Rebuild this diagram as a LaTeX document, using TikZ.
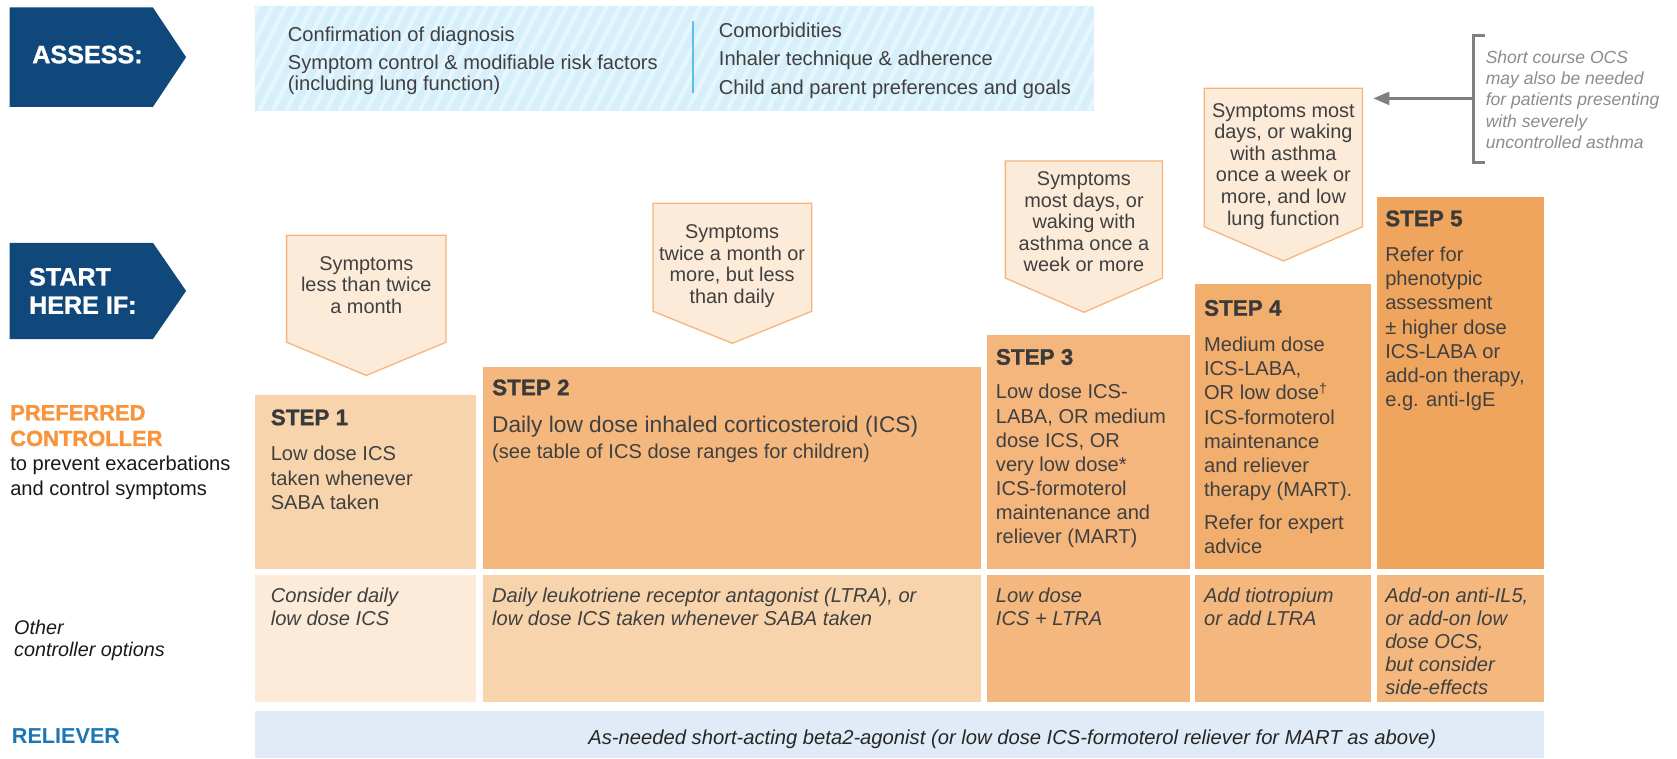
\documentclass[tikz,border=0pt]{standalone}
\usepackage{fontspec}
\setmainfont{Liberation Sans}
\newfontfamily\heavyfont{Liberation Sans}[BoldFeatures={FakeBold=1.2}]
\usetikzlibrary{arrows.meta}
\definecolor{navy}{RGB}{17,72,123}
\definecolor{assessbg}{RGB}{214,239,251}
\definecolor{assessstripe}{RGB}{229,246,253}
\definecolor{divblue}{RGB}{88,192,234}
\definecolor{symbg}{RGB}{253,235,217}
\definecolor{symline}{RGB}{245,180,124}
\definecolor{stepa}{RGB}{248,212,172}
\definecolor{stepb}{RGB}{244,184,127}
\definecolor{stepc}{RGB}{244,182,124}
\definecolor{stepd}{RGB}{242,174,109}
\definecolor{stepe}{RGB}{239,165,93}
\definecolor{relbg}{RGB}{225,235,247}
\definecolor{prefor}{RGB}{247,148,60}
\definecolor{relblue}{RGB}{26,118,182}
\definecolor{bodygray}{RGB}{64,64,64}
\definecolor{titlegray}{RGB}{58,58,58}
\definecolor{notegray}{RGB}{140,140,140}
\definecolor{brkgray}{RGB}{128,128,128}
\newcommand{\chevron}[3]{\fill[navy] (9,#1) -- (143,#1) -- (174,#2) -- (143,#3) -- (9,#3) -- cycle;}
\newcommand{\symp}[5]{\filldraw[sympath] (#1,#3) -- (#2,#3) -- (#2,#4) -- ({(#1+#2)/2},#5) -- (#1,#4) -- cycle;}
\newcommand{\cell}[5]{\fill[#1] (#2,#3) rectangle (#4,#5);}

\begin{document}
\begin{tikzpicture}[x=1pt, y=-1pt, every node/.style={inner sep=0pt},
    sympath/.style={fill=symbg, draw=symline, line width=1.2pt},
    symtext/.style={anchor=north, align=center, text=bodygray, font=\fontsize{18.6}{20.2}\selectfont},
    steptitle/.style={anchor=base west, text=titlegray, font=\heavyfont\bfseries\fontsize{21}{25}\selectfont},
    stepbody/.style={anchor=north west, align=left, text=bodygray, font=\fontsize{18.8}{22.6}\selectfont},
    othertext/.style={anchor=north west, align=left, text=bodygray, font=\itshape\fontsize{18.8}{21.5}\selectfont},
    assesstext/.style={anchor=north west, align=left, text=bodygray, font=\fontsize{18.8}{20}\selectfont},
    navytext/.style={align=left, text=white, font=\heavyfont\bfseries\fontsize{23.5}{26.5}\selectfont},
    notetext/.style={anchor=north west, align=left, text=notegray, font=\itshape\fontsize{16.4}{19.9}\selectfont},
    bracket/.style={draw=brkgray, line width=3pt},
    ocsarrow/.style={draw=brkgray, line width=2.5pt, -{Triangle[length=15pt,width=12pt]}}]
    \useasboundingbox (0,0) rectangle (1568,709);

    % assess row
    \chevron{7}{53.5}{100}
    \node[navytext, anchor=west] (assess) at (30,51) {ASSESS:};
    \fill[assessbg] (238,5.6) rectangle (1023,103.5);
    \begin{scope}
        \clip (238,5.6) rectangle (1023,103.5);
        \foreach \x in {180,192.5,...,1030}
            \draw[assessstripe, line width=4pt] (\x,103.5) -- ++(50,-98);
    \end{scope}
    \draw[divblue, line width=2.5pt] (648,20) -- (648,87);
    \node[assesstext] (diag) at (269,25.2) {Confirmation of diagnosis};
    \node[assesstext] (risk) at (269,51.2) {Symptom control \& modifiable risk factors\\(including lung function)};
    \node[assesstext, font=\fontsize{18.8}{26.5}\selectfont] (comorb) at (672,21.2) {Comorbidities\\Inhaler technique \& adherence\\Child and parent preferences and goals};

    % short course OCS note
    \node[notetext] (ocs) at (1389,47) {Short course OCS\\may also be needed\\for patients presenting\\with severely\\uncontrolled asthma};
    \draw[bracket] (1388,33) -- (1378,33) -- (1378,152) -- (1388,152);
    \coordinate (brk) at (1378,92);
    \coordinate (ocstip) at (1284,92);
    \draw[ocsarrow] (brk) -- (ocstip);

    % start here if row
    \chevron{227}{272}{317}
    \node[navytext, anchor=north west] (start) at (27,250.3) {START\\HERE IF:};
    \symp{268}{417}{220}{320}{351}
    \node[symtext] (sym1) at (342.5,239.3) {Symptoms\\less than twice\\a month};
    \symp{610.5}{759}{190}{291}{321}
    \node[symtext] (sym2) at (684.5,209.9) {Symptoms\\twice a month or\\more, but less\\than daily};
    \symp{940}{1087}{150.5}{260}{292}
    \node[symtext] (sym3) at (1013.5,160.3) {Symptoms\\most days, or\\waking with\\asthma once a\\week or more};
    \symp{1126}{1274}{82.5}{212}{244}
    \node[symtext] (sym4) at (1200,96.3) {Symptoms most\\days, or waking\\with asthma\\once a week or\\more, and low\\lung function};

    % preferred controller row
    \node[anchor=north west, align=left, text=prefor, font=\heavyfont\bfseries\fontsize{20.5}{24}\selectfont] (pref) at (9.4,378.7) {PREFERRED\\CONTROLLER};
    \node[anchor=north west, align=left, text=black!90, font=\fontsize{18.8}{23}\selectfont] (prefsub) at (9.4,426.2) {to prevent exacerbations\\and control symptoms};
    \cell{stepa}{238}{369}{445}{532}
    \cell{stepb}{452}{343}{917}{532}
    \cell{stepc}{923}{313}{1113}{532}
    \cell{stepd}{1117.5}{266}{1282}{532}
    \cell{stepe}{1287.5}{184}{1444}{532}
    \node[steptitle] (t1) at (253,397.5) {STEP 1};
    \node[stepbody] (b1) at (253,417.2) {Low dose ICS\\taken whenever\\SABA taken};
    \node[steptitle] (t2) at (460,369.5) {STEP 2};
    \node[anchor=base west, text=bodygray, font=\fontsize{21.2}{25}\selectfont] (b2) at (460,404.6) {Daily low dose inhaled corticosteroid (ICS)};
    \node[anchor=base west, text=bodygray, font=\fontsize{18.8}{22.6}\selectfont] (b2note) at (460,428.3) {(see table of ICS dose ranges for children)};
    \node[steptitle] (t3) at (931,341) {STEP 3};
    \node[stepbody] (b3) at (931,359.2) {Low dose ICS-\\LABA, OR medium\\dose ICS, OR\\very low dose*\\ICS-formoterol\\maintenance and\\reliever (MART)};
    \node[steptitle] (t4) at (1125.6,295.2) {STEP 4};
    \node[stepbody] (b4) at (1125.6,314.9) {Medium dose\\ICS-LABA,\\OR low dose\textsuperscript{†}\\ICS-formoterol\\maintenance\\and reliever\\therapy (MART).};
    \node[stepbody] (b4refer) at (1125.6,481) {Refer for expert\\advice};
    \node[steptitle] (t5) at (1295,211.5) {STEP 5};
    \node[stepbody] (b5) at (1295,230.7) {Refer for\\phenotypic\\assessment\\± higher dose\\ICS-LABA or\\add-on therapy,\\e.g. anti-IgE};

    % other controller options row
    \node[anchor=north west, align=left, text=black!90, font=\itshape\fontsize{18.5}{20.5}\selectfont] (other) at (13,579.3) {Other\\controller options};
    \cell{symbg}{238}{538}{445}{656.5}
    \cell{stepa}{452}{538}{917}{656.5}
    \cell{stepb}{923}{538}{1113}{656.5}
    \cell{stepb}{1117.5}{538}{1282}{656.5}
    \cell{stepb}{1287.5}{538}{1444}{656.5}
    \node[othertext] (o1) at (253,549.2) {Consider daily\\low dose ICS};
    \node[othertext] (o2) at (460,549.2) {Daily leukotriene receptor antagonist (LTRA), or\\low dose ICS taken whenever SABA taken};
    \node[othertext] (o3) at (931,549.2) {Low dose\\ICS + LTRA};
    \node[othertext] (o4) at (1125.6,549.2) {Add tiotropium\\or add LTRA};
    \node[othertext] (o5) at (1295,549.2) {Add-on anti-IL5,\\or add-on low\\dose OCS,\\but consider\\side-effects};

    % reliever row
    \node[anchor=west, text=relblue, font=\bfseries\fontsize{20.2}{24}\selectfont] (rel) at (11,688) {RELIEVER};
    \cell{relbg}{238}{665}{1444}{709}
    \node[anchor=base, text=black!85, font=\itshape\fontsize{18.9}{22}\selectfont] (reltext) at (946.5,695.8) {As-needed short-acting beta2-agonist (or low dose ICS-formoterol reliever for MART as above)};
\end{tikzpicture}
\end{document}
